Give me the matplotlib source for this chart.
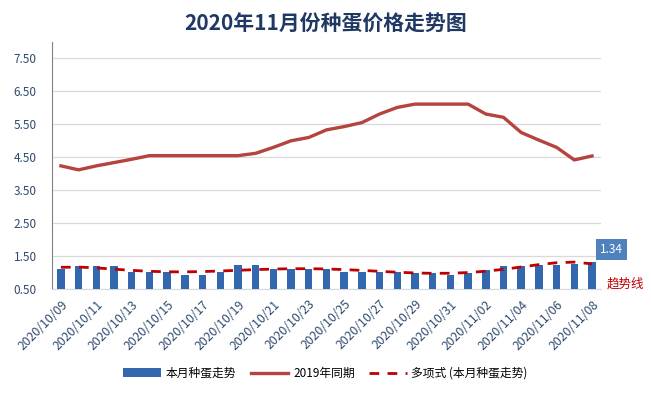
import numpy as np
import matplotlib
matplotlib.use("Agg")
import matplotlib.pyplot as plt

plt.rcParams['font.family'] = ['Noto Sans CJK SC', 'DejaVu Sans']

# Data
dates = ['2020/10/09', '2020/10/10', '2020/10/11', '2020/10/12', '2020/10/13', '2020/10/14',
         '2020/10/15', '2020/10/16', '2020/10/17', '2020/10/18', '2020/10/19', '2020/10/20',
         '2020/10/21', '2020/10/22', '2020/10/23', '2020/10/24', '2020/10/25', '2020/10/26',
         '2020/10/27', '2020/10/28', '2020/10/29', '2020/10/30', '2020/10/31', '2020/11/01',
         '2020/11/02', '2020/11/03', '2020/11/04', '2020/11/05', '2020/11/06', '2020/11/07',
         '2020/11/08']
this_month = [1.12, 1.20, 1.20, 1.20, 1.03, 1.03, 1.02, 0.93, 0.93, 1.03, 1.24, 1.24,
              1.12, 1.12, 1.12, 1.12, 1.03, 1.03, 1.03, 1.03, 1.00, 1.00, 0.95, 1.00,
              1.10, 1.20, 1.20, 1.23, 1.23, 1.27, 1.34]
last_year = [4.24, 4.12, 4.24, 4.34, 4.44, 4.55, 4.55, 4.55, 4.55, 4.55, 4.55, 4.62,
             4.80, 5.00, 5.10, 5.33, 5.43, 5.55, 5.81, 6.01, 6.11, 6.11, 6.11, 6.11,
             5.81, 5.71, 5.25, 5.02, 4.80, 4.42, 4.54]

x = np.arange(len(dates))

# polynomial trendline like Excel's (order 6)
coef = np.polyfit(x, this_month, 6)
trend = np.polyval(coef, x)

fig = plt.figure(figsize=(6.51, 3.97), dpi=100)
ax = fig.add_axes([0.080, 0.271, 0.843, 0.624])

bars = ax.bar(x, this_month, width=0.42, color='#3468AE', zorder=3, label='本月种蛋走势')
line, = ax.plot(x, last_year, color='#B5433E', lw=2.4, zorder=4, label='2019年同期')
tr, = ax.plot(x, trend, color='#C00000', lw=2, ls=(0, (3.5, 3)), zorder=5,
              label='多项式 (本月种蛋走势)')

ax.set_xlim(-0.5, len(dates) - 0.5)
ax.set_ylim(0.5, 8.0)
ax.set_yticks(np.arange(0.5, 8.0, 1.0))
ax.set_yticklabels(['%.2f' % v for v in np.arange(0.5, 8.0, 1.0)])
ax.grid(axis='y', color='#D9D9D9', lw=0.9, zorder=0)
ax.set_axisbelow(True)

ax.set_xticks(x[::2])
ax.set_xticklabels(dates[::2], rotation=45, ha='right', va='top', rotation_mode='anchor')
ax.tick_params(axis='x', length=0, labelsize=8.8, colors='#2F4A6E', pad=6)
ax.tick_params(axis='y', length=0, labelsize=8.5, colors='#2F4A6E', pad=11)

for s in ['top', 'right']:
    ax.spines[s].set_visible(False)
ax.spines['left'].set_color('#808080')
ax.spines['bottom'].set_color('#D9D9D9')

# last value label
ax.annotate('1.34', (x[-1], this_month[-1]), xytext=(14, 9), textcoords='offset points',
            ha='center', va='center', color='white', fontsize=8.5,
            bbox=dict(boxstyle='square,pad=0.35', fc='#4F81BD', ec='none'))
ax.annotate('趋势线', (x[-1], 0.5), xytext=(24, 4), textcoords='offset points',
            ha='center', va='center', color='#C00000', fontsize=9, annotation_clip=False)

fig.suptitle('2020年11月份种蛋价格走势图', x=0.5, y=0.965, fontsize=15,
             fontweight='bold', color='#1F3864')

fig.legend(handles=[bars, line, tr], loc='center', bbox_to_anchor=(0.5, 0.06), ncol=3,
           frameon=False, fontsize=8.5, handlelength=3.2, columnspacing=1.2,
           handletextpad=0.4)

fig.savefig('out.png', dpi=100)
